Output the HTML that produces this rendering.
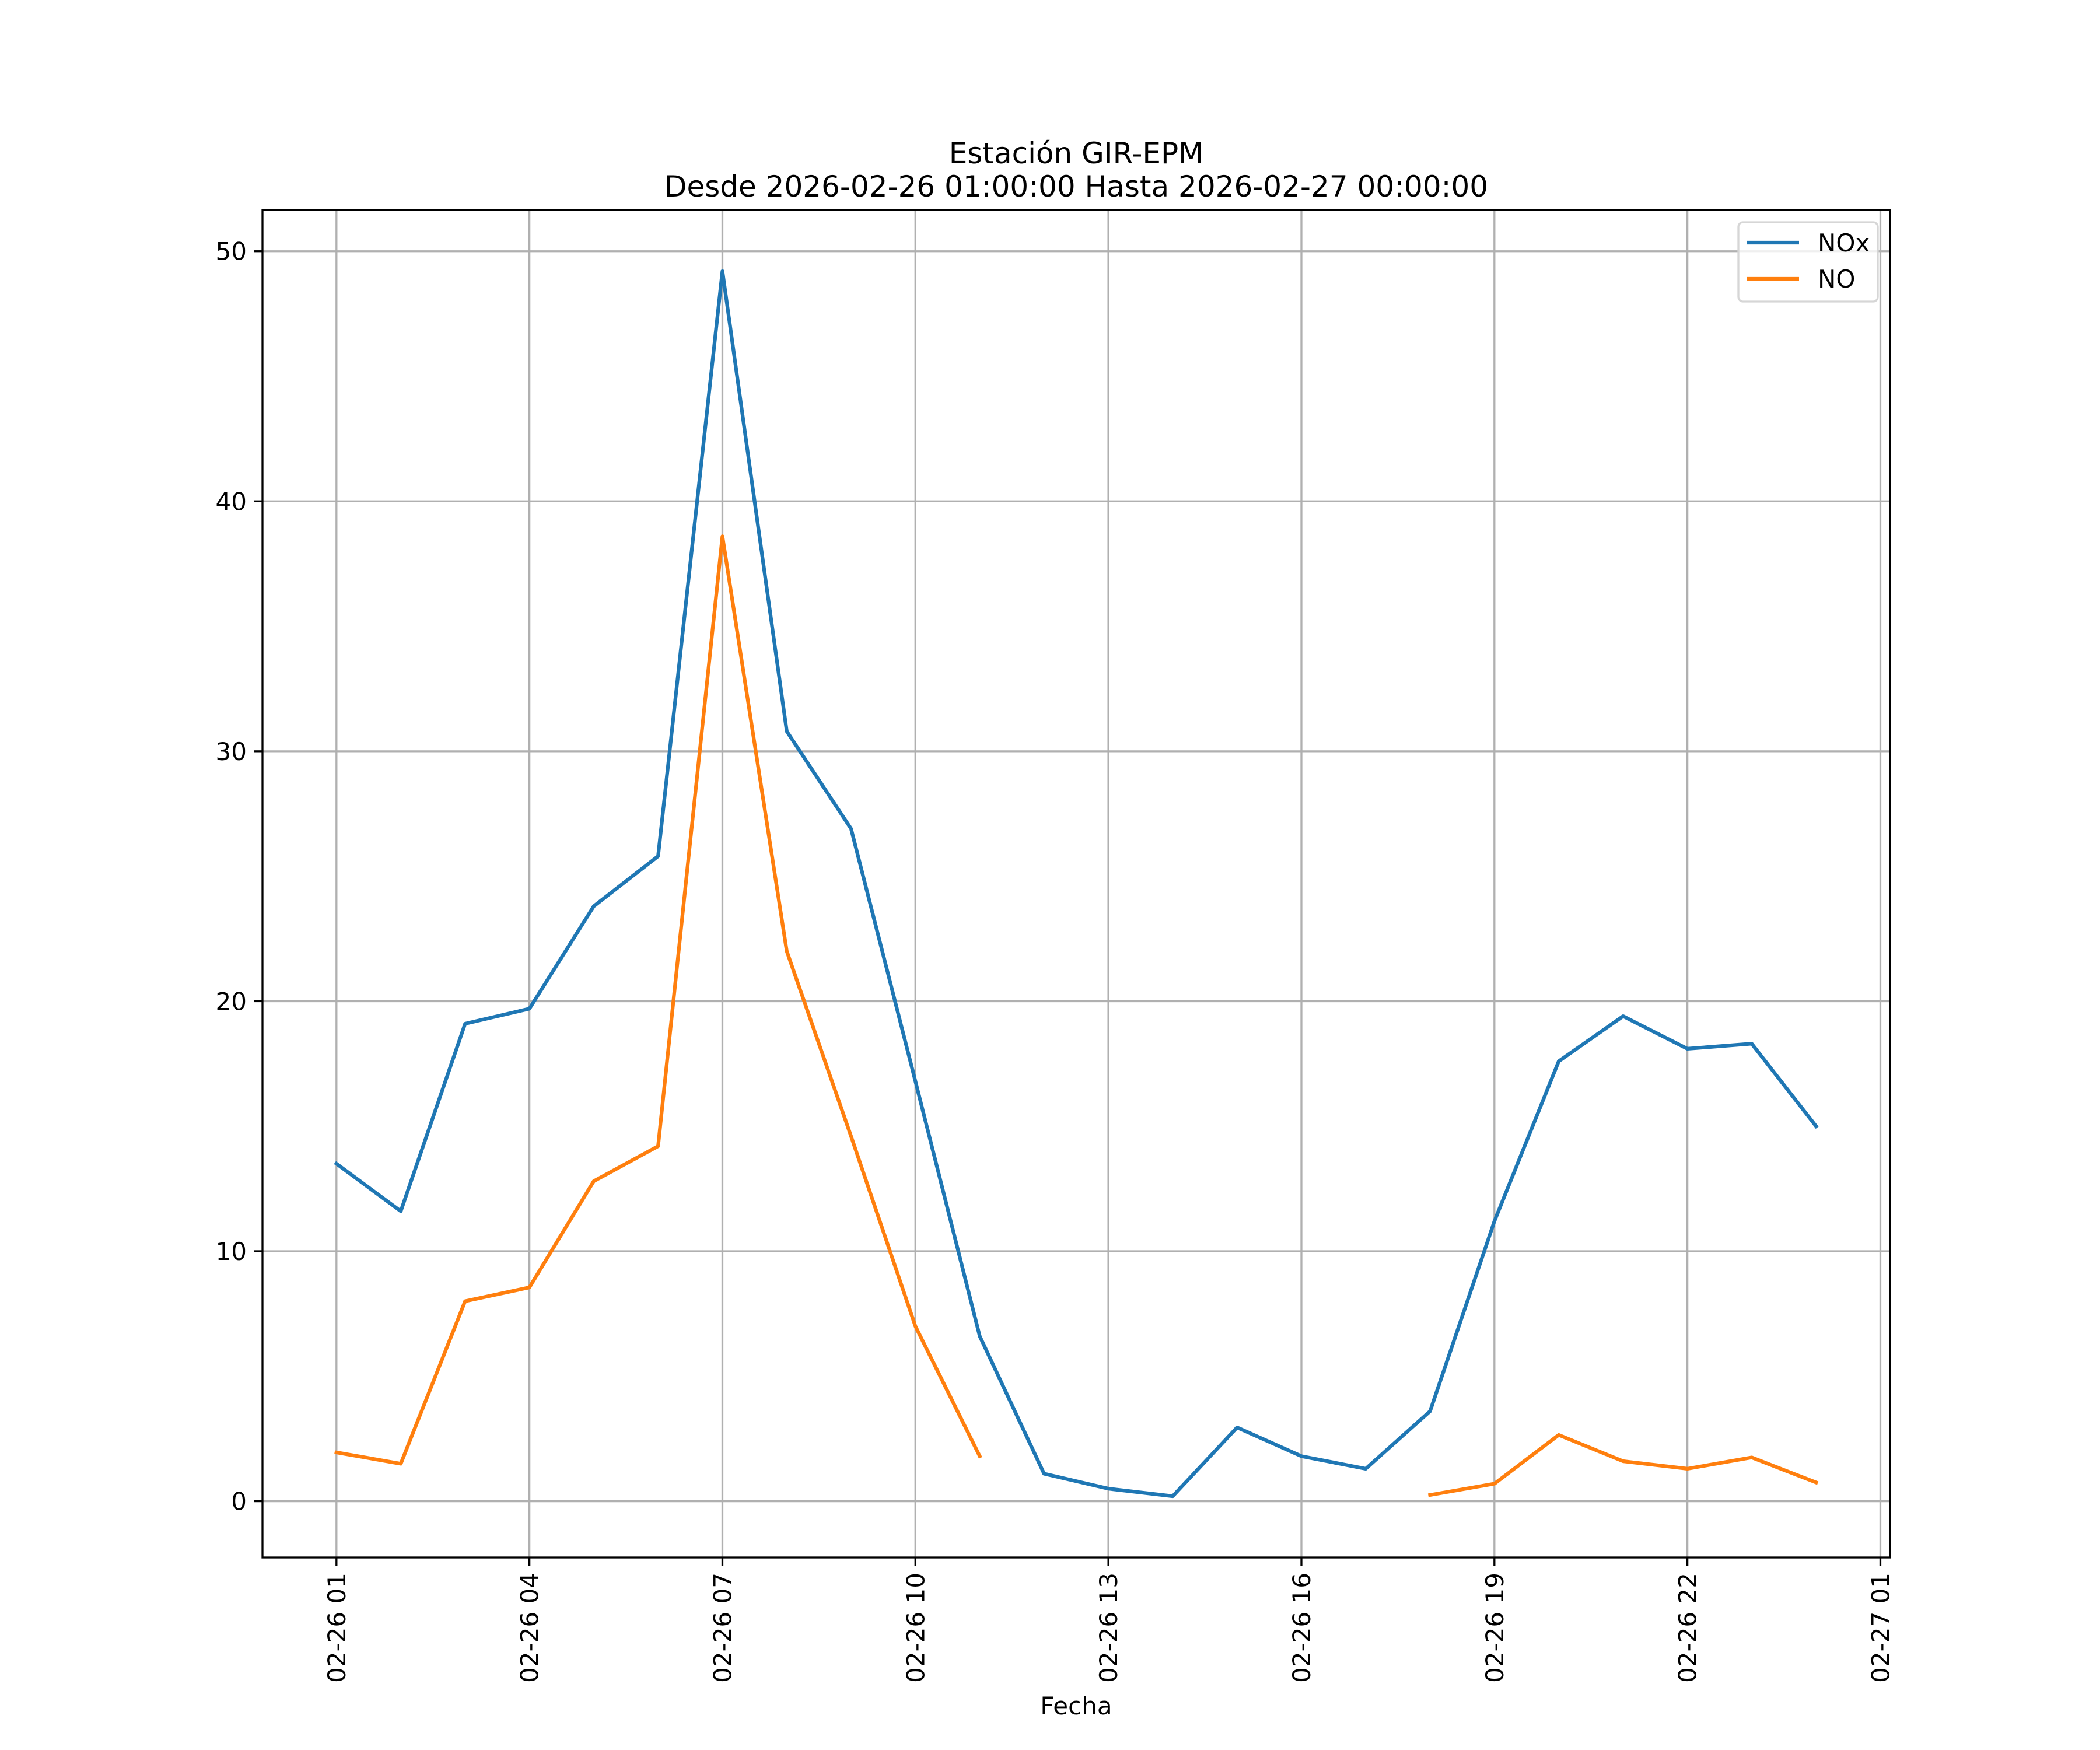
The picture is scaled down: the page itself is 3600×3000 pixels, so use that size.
<!DOCTYPE html>
<html><head><meta charset="utf-8"><style>
html,body{margin:0;padding:0;background:#fff;}
svg{display:block;font-family:"DejaVu Sans","Liberation Sans",sans-serif;}
</style></head><body>
<svg id="chart" width="3600" height="3000" viewBox="0 0 3600 3000">
<rect width="3600" height="3000" fill="#fff"/>
<text x="1845" y="280" font-size="50" text-anchor="middle">Estación GIR-EPM</text>
<text x="1845" y="337" font-size="50" text-anchor="middle">Desde 2026-02-26 01:00:00 Hasta 2026-02-27 00:00:00</text>
<g id="grid"></g>
<g id="series"></g>
<rect x="450" y="360" width="2790" height="2310" fill="none" stroke="#000" stroke-width="3.3"/>
<g id="ticks"></g>
<text x="1845" y="2939" font-size="42" text-anchor="middle">Fecha</text>
<g>
<rect x="2980" y="381" width="239" height="136" rx="8" fill="#fff" fill-opacity="0.8" stroke="#d6d6d6" stroke-width="3.3"/>
<line x1="2994" y1="416" x2="3084" y2="416" stroke="#1f77b4" stroke-width="6.25"/>
<text x="3116" y="431" font-size="42">NOx</text>
<line x1="2994" y1="478" x2="3084" y2="478" stroke="#ff7f0e" stroke-width="6.25"/>
<text x="3116" y="493" font-size="42">NO</text>
</g>
</svg>
<script>
const hours = [1,2,3,4,5,6,7,8,9,10,11,12,13,14,15,16,17,18,19,20,21,22,23,24];
const noxValues = [13.5,11.6,19.1,19.7,23.8,25.8,49.2,30.8,26.9,16.8,6.6,1.1,0.5,0.2,2.95,1.8,1.3,3.6,11.2,17.6,19.4,18.1,18.3,15.0];
const noValues = [1.95,1.5,8.0,8.55,12.8,14.2,38.6,22.0,14.6,7.0,1.8,null,null,null,null,null,null,0.25,0.7,2.65,1.6,1.3,1.75,0.75];
const yTicks = [0,10,20,30,40,50];
const xTickHours = [1,4,7,10,13,16,19,22,25];
const xTickLabels = ["02-26 01","02-26 04","02-26 07","02-26 10","02-26 13","02-26 16","02-26 19","02-26 22","02-27 01"];

const NS="http://www.w3.org/2000/svg";
const L=450,R=3240,T=360,B=2670;
const xMin=-0.15,xMax=25.15,yMin=-2.25,yMax=51.65;
const xs=h=>L+(h-xMin)/(xMax-xMin)*(R-L);
const ys=v=>B-(v-yMin)/(yMax-yMin)*(B-T);
function mk(tag,attrs,parent){const e=document.createElementNS(NS,tag);for(const k in attrs)e.setAttribute(k,attrs[k]);parent.appendChild(e);return e;}
const grid=document.getElementById('grid'),ticks=document.getElementById('ticks'),series=document.getElementById('series');
yTicks.forEach(v=>{
  const y=ys(v);
  const g=mk('line',{x1:L,x2:R,y1:y,y2:y,stroke:'#b0b0b0','stroke-width':3.3},grid);
  
  
  mk('line',{x1:L-14.6,x2:L,y1:y,y2:y,stroke:'#000','stroke-width':3.3},ticks);
  const t=mk('text',{x:L-27,y:y+15,'font-size':42,'text-anchor':'end'},ticks);
  t.textContent=v;
  
  
});
xTickHours.forEach((h,i)=>{
  const x=xs(h);
  const g=mk('line',{x1:x,x2:x,y1:T,y2:B,stroke:'#b0b0b0','stroke-width':3.3},grid);
  
  
  mk('line',{x1:x,x2:x,y1:B,y2:B+14.6,stroke:'#000','stroke-width':3.3},ticks);
  const t=mk('text',{x:0,y:0,'font-size':42,'text-anchor':'end',transform:`translate(${x+15},${B+26}) rotate(-90)`},ticks);
  t.textContent=xTickLabels[i];
  
  
});
function drawSeries(vals,color,name){
  let segs=[],cur=[];
  vals.forEach((v,i)=>{if(v===null){if(cur.length)segs.push(cur);cur=[];}else cur.push(xs(hours[i]).toFixed(1)+','+ys(v).toFixed(1));});
  if(cur.length)segs.push(cur);
  segs.forEach(s=>{
    const p=mk('polyline',{points:s.join(' '),fill:'none',stroke:color,'stroke-width':6.25,'stroke-linejoin':'round','stroke-linecap':'square'},series);
    
    
  });
}
drawSeries(noxValues,'#1f77b4','nox-line');
drawSeries(noValues,'#ff7f0e','no-line');
</script>
</body></html>
